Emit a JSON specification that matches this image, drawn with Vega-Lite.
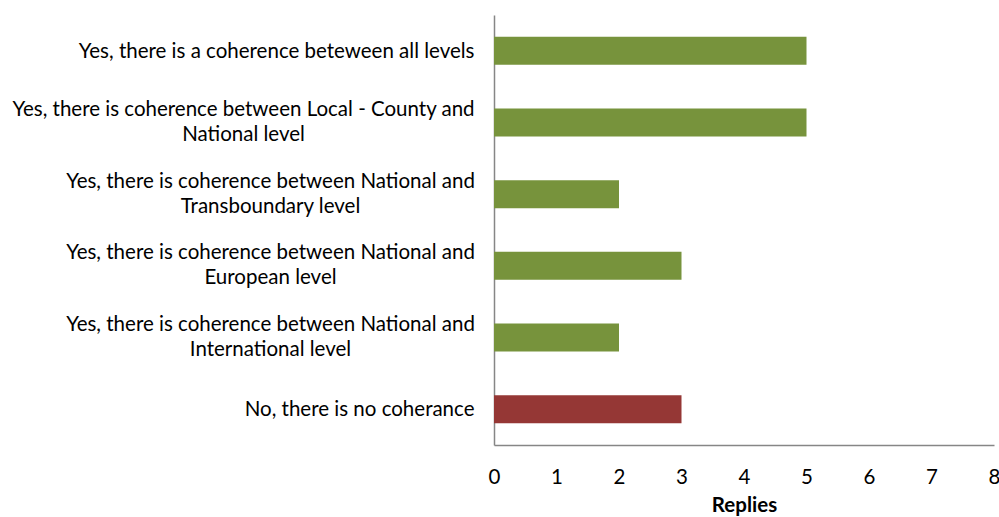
{
  "$schema": "https://vega.github.io/schema/vega-lite/v6.json",
  "autosize": "none",
  "width": 500,
  "height": 430,
  "padding": {"left": 494, "top": 15, "right": 5, "bottom": 72},
  "background": "white",
  "config": {"view": {"stroke": null}, "font": "Lato"},
  "data": {
    "values": [
      {"answer": "Yes, there is a coherence beteween all levels", "replies": 5, "type": "yes"},
      {"answer": "Yes, there is coherence between Local - County and|National level", "replies": 5, "type": "yes"},
      {"answer": "Yes, there is coherence between National and|Transboundary level", "replies": 2, "type": "yes"},
      {"answer": "Yes, there is coherence between National and|European level", "replies": 3, "type": "yes"},
      {"answer": "Yes, there is coherence between National and|International level", "replies": 2, "type": "yes"},
      {"answer": "No, there is no coherance", "replies": 3, "type": "no"}
    ]
  },
  "mark": {"type": "bar"},
  "encoding": {
    "y": {
      "field": "answer",
      "type": "nominal",
      "sort": null,
      "scale": {"paddingInner": 0.61, "paddingOuter": 0.305},
      "axis": {
        "title": null,
        "ticks": false,
        "domainColor": "#868686",
        "domainWidth": 1.5,
        "labelExpr": "split(datum.label, '|')",
        "labelFont": "Lato",
        "labelFontSize": 20.5,
        "labelColor": "#000000",
        "labelLineHeight": 25,
        "labelLimit": 700,
        "labelAlign": {"condition": {"test": "indexof(datum.value, '|') >= 0", "value": "center"}, "value": "right"},
        "labelPadding": {"condition": [
          {"test": "indexof(datum.value, 'Local') >= 0", "value": 251},
          {"test": "indexof(datum.value, '|') >= 0", "value": 224}
        ], "value": 20},
        "labelOffset": {"condition": {"test": "indexof(datum.value, '|') >= 0", "value": -12.5}, "value": 1}
      }
    },
    "x": {
      "field": "replies",
      "type": "quantitative",
      "scale": {"domain": [0, 8]},
      "axis": {
        "title": "Replies",
        "titleFont": "Lato",
        "titleFontSize": 20.5,
        "titleFontWeight": "bold",
        "titleColor": "#000000",
        "titlePadding": 8,
        "ticks": false,
        "grid": false,
        "tickCount": 8,
        "domainColor": "#868686",
        "domainWidth": 1.5,
        "labelFont": "Lato",
        "labelFontSize": 20.5,
        "labelColor": "#000000",
        "labelPadding": 22,
        "labelFlush": false
      }
    },
    "color": {
      "field": "type",
      "type": "nominal",
      "scale": {"domain": ["yes", "no"], "range": ["#77933C", "#953735"]},
      "legend": null
    }
  }
}
